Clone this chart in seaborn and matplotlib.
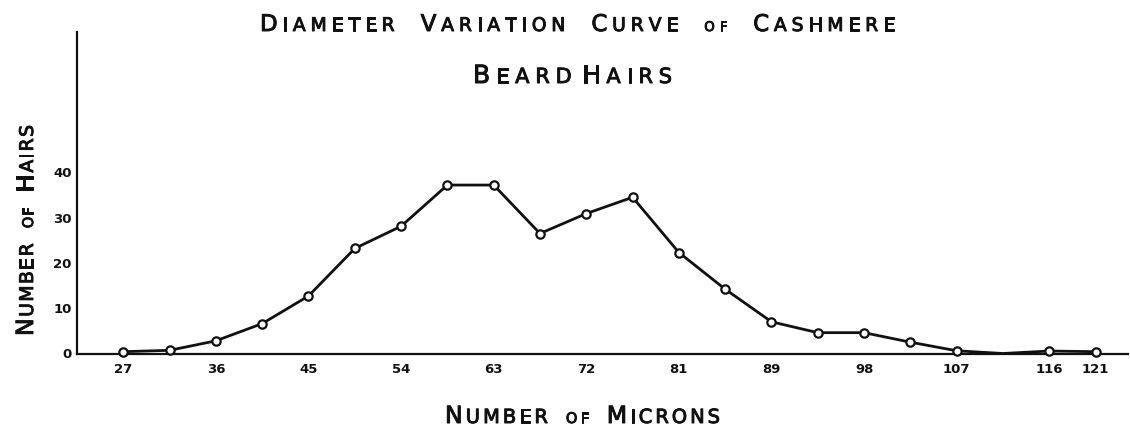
import matplotlib
matplotlib.use("Agg")
import matplotlib.pyplot as plt
import matplotlib.patheffects as pe
import seaborn as sns
import pandas as pd

# ---- data ----
steps = list(range(22))  # evenly spaced class intervals along the x axis
hairs = [0.4, 0.7, 2.8, 6.6, 12.7, 23.2, 28.1, 37.2, 37.2, 26.5, 30.9,
         34.5, 22.3, 14.2, 7.0, 4.6, 4.6, 2.5, 0.6, 0.0, 0.55, 0.4]
x_tick_steps = [0, 2, 4, 6, 8, 10, 12, 14, 16, 18, 20, 21]
x_tick_labels = ["27", "36", "45", "54", "63", "72", "81", "89", "98", "107", "116", "121"]
y_ticks = [0, 10, 20, 30, 40]
hidden_marker_steps = [19]

title_line1 = ["Diameter", "Variation", "Curve", "of", "Cashmere"]
title_line2 = ["Beard", "Hairs"]
x_label = ["Number", "of", "Microns"]
y_label = ["Number", "of", "Hairs"]

# ---- figure ----
W, H = 1130, 429
sns.set_style("white")
plt.rcParams["font.family"] = ["DejaVu Sans"]
fig = plt.figure(figsize=(W / 100, H / 100), dpi=100)
fig.patch.set_facecolor("white")

ax_left, ax_right, ax_bottom_px, ax_top_px = 77, 1128, 353.5, 32
ax = fig.add_axes([ax_left / W, 1 - ax_bottom_px / H,
                   (ax_right - ax_left) / W, (ax_bottom_px - ax_top_px) / H])

df = pd.DataFrame({"step": steps, "hairs": hairs})
marker_idx = [i for i in steps if i not in hidden_marker_steps]
sns.lineplot(data=df, x="step", y="hairs", ax=ax, color="#111111", linewidth=2.0,
             marker="o", markersize=6.0, markerfacecolor="white",
             markeredgecolor="#111111", markeredgewidth=1.6,
             markevery=marker_idx, clip_on=False, zorder=5)

ax.set_xlim(-1.0, 21.7)
ax.set_ylim(0, 71.0)
ax.set_xticks(x_tick_steps)
ax.set_xticklabels(x_tick_labels)
ax.set_yticks(y_ticks)
ax.set_yticklabels([str(v) for v in y_ticks])
ax.tick_params(axis="x", length=0, pad=7, labelsize=9.5)
ax.tick_params(axis="y", length=0, pad=4, labelsize=9.5)
for lab in ax.get_xticklabels() + ax.get_yticklabels():
    lab.set_fontweight("bold")
    lab.set_color("#111111")
ax.set_xlabel("")
ax.set_ylabel("")
for s in ["top", "right"]:
    ax.spines[s].set_visible(False)
for s in ["left", "bottom"]:
    ax.spines[s].set_color("#111111")
    ax.spines[s].set_linewidth(1.6)
ax.set_facecolor("white")

# ---- hand-lettered small-caps text helper ----
renderer = fig.canvas.get_renderer()
stroke = [pe.withStroke(linewidth=0.7, foreground="#111111")]


def glyph_width(ch, size):
    t = fig.text(0, 0, ch, fontsize=size)
    w = t.get_window_extent(renderer).width
    t.remove()
    return w


def smallcaps(words, start, end, base, big, small, tiny, word_gap, vertical=False):
    items = []
    for word in words:
        if word == word.lower():
            chars = [(c, tiny) for c in word.upper()]
        else:
            chars = [(word[0], big)] + [(c, small) for c in word[1:].upper()]
        items.append(chars)
    widths = [[glyph_width(c, s) for c, s in chars] for chars in items]
    total = sum(sum(w) for w in widths)
    n_char_gaps = sum(len(c) - 1 for c in items)
    n_word_gaps = len(items) - 1
    span = abs(end - start)
    track = (span - total - word_gap * n_word_gaps) / max(n_char_gaps, 1)
    pos = 0.0
    for wi, chars in enumerate(items):
        if wi > 0:
            pos += word_gap
        for ci, (c, s) in enumerate(chars):
            if ci > 0:
                pos += track
            if vertical:
                fig.text(base / W, 1 - (start - pos) / H, c, fontsize=s, rotation=90,
                         rotation_mode="anchor", ha="left", va="baseline",
                         color="#111111", path_effects=stroke)
            else:
                fig.text((start + pos) / W, 1 - base / H, c, fontsize=s,
                         ha="left", va="baseline", color="#111111", path_effects=stroke)
            pos += widths[wi][ci]


smallcaps(title_line1, 260, 895, 31, 16.5, 13.5, 9.5, 26)
smallcaps(title_line2, 473, 672, 83, 18, 15, 10, 10)
smallcaps(x_label, 445, 720, 423, 17, 14, 10.5, 18)
smallcaps(y_label, 336, 125, 33, 17, 13.5, 10.5, 15, vertical=True)

fig.savefig("out.png", dpi=100, facecolor="white")
